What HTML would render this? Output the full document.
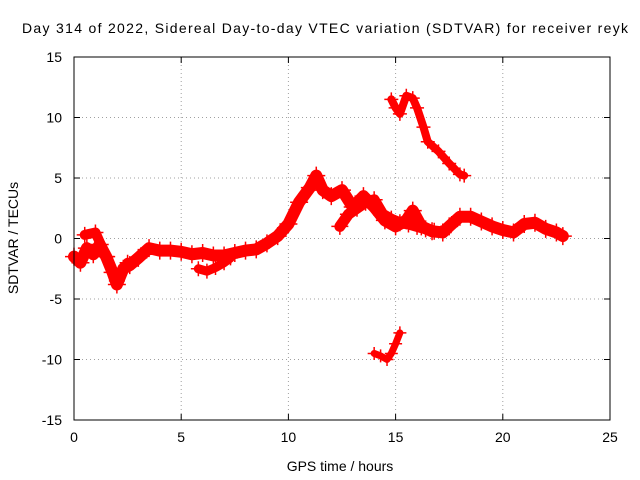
<!DOCTYPE html>
<html><head><meta charset="utf-8"><style>
body{margin:0;background:#fff}
svg{display:block;font-family:"Liberation Sans",sans-serif}
</style></head><body>
<svg id="chart" width="640" height="480">
<rect width="640" height="480" fill="#fff"/>
<text x="325" y="33" font-size="14" text-anchor="middle" textLength="606">Day 314 of 2022, Sidereal Day-to-day VTEC variation (SDTVAR) for receiver reyk</text>
<g id="grid"></g>
<g id="series"></g>
<rect x="74" y="57" width="536" height="363" fill="none" stroke="#000" stroke-width="1"/>
<g id="ticks"></g>
<text x="340" y="471" font-size="14" text-anchor="middle">GPS time / hours</text>
<text transform="translate(18,238) rotate(-90)" font-size="14" text-anchor="middle">SDTVAR / TECUs</text>
</svg>
<script>
const xTicks=[0,5,10,15,20,25];
const yTicks=[-15,-10,-5,0,5,10,15];
const mainT=[0,0.3,0.6,0.9,1.2,1.5,1.8,2,2.3,2.6,3,3.5,4,4.5,5,5.5,6,6.5,7,7.5,8,8.5,9,9.5,10,10.5,11,11.3,11.6,12,12.5,13,13.5,14,14.5,15,15.5,15.8,16.2,16.7,17.2,17.5,18,18.5,19,19.5,20,20.5,21,21.5,22,22.5,22.8];
const mainV=[-1.5,-2,-0.8,-1.3,-0.5,-1.5,-2.8,-3.8,-2.5,-2.2,-1.6,-0.8,-1,-1,-1.1,-1.3,-1.2,-1.4,-1.4,-1.2,-1,-0.9,-0.4,0.2,1.2,3,4.2,5.2,4,3.5,4,2.6,3.5,2.6,1.5,1,1.5,2.3,1,0.6,0.5,1,1.8,1.8,1.4,1,0.7,0.5,1.2,1.3,0.8,0.5,0.2];
const branchT=[0.5,1,1.5,2,2.5];
const branchV=[0.3,0.5,-1.5,-3.5,-2];
const lowBranchT=[5.8,6.2,6.6,7,7.3];
const lowBranchV=[-2.5,-2.7,-2.4,-2,-1.6];
const midT=[12.4,12.8,13.2,13.6,14,14.4,14.8,15.2,15.6,16,16.4,16.8];
const midV=[1,2,2.5,3,3.2,2,1.6,1.3,1.2,1,0.8,0.6];
const highT=[14.8,15,15.2,15.5,15.8,16,16.3,16.5,17,17.5,18,18.2];
const highV=[11.5,10.8,10.3,11.8,11.6,10.8,9.2,8,7.2,6.2,5.3,5.2];
const lowT=[14,14.3,14.6,14.8,15,15.2];
const lowV=[-9.5,-9.7,-10,-9.5,-8.7,-7.8];
const X=t=>74+t*536/25, Y=v=>238.5-v*363/30;
const NS="http://www.w3.org/2000/svg";
function mk(tag,attrs,parent){const e=document.createElementNS(NS,tag);for(const k in attrs)e.setAttribute(k,attrs[k]);parent.appendChild(e);return e;}
const grid=document.getElementById('grid'),ticks=document.getElementById('ticks'),ser=document.getElementById('series');
xTicks.forEach(t=>{const x=X(t);
 const g=mk('line',{x1:x,x2:x,y1:57,y2:420,stroke:'#a0a0a0','stroke-dasharray':'1,3'},grid);
 
 mk('line',{x1:x,x2:x,y1:420,y2:414,stroke:'#000'},ticks);mk('line',{x1:x,x2:x,y1:57,y2:63,stroke:'#000'},ticks);
 const l=mk('text',{x:x,y:442,'font-size':14,'text-anchor':'middle'},ticks);l.textContent=t;
 });
yTicks.forEach(v=>{const y=Y(v);
 const g=mk('line',{x1:74,x2:610,y1:y,y2:y,stroke:'#a0a0a0','stroke-dasharray':'1,3'},grid);
 
 mk('line',{x1:74,x2:80,y1:y,y2:y,stroke:'#000'},ticks);mk('line',{x1:604,x2:610,y1:y,y2:y,stroke:'#000'},ticks);
 const l=mk('text',{x:62,y:y+5,'font-size':14,'text-anchor':'end'},ticks);l.textContent=v;
 });
function draw(T,V,name,w){
 const p=mk('polyline',{points:T.map((t,i)=>X(t)+','+Y(V[i])).join(' '),fill:'none',stroke:'#f00','stroke-width':w,'stroke-linejoin':'round','stroke-linecap':'round'},ser);
 
 T.forEach((t,i)=>{const x=X(t),y=Y(V[i]);
  const m=mk('path',{d:`M${x-w/2-3},${y}h${w+6}M${x},${y-w/2-3}v${w+6}`,stroke:'#f00','stroke-width':1.5},ser);
  });
}
draw(mainT,mainV,'main-trace',12);draw(branchT,branchV,'early-branch',10);draw(lowBranchT,lowBranchV,'low-branch',9);
draw(midT,midV,'mid-branch',11);draw(highT,highV,'high-segment',8);draw(lowT,lowV,'low-segment',7);
</script>
</body></html>
